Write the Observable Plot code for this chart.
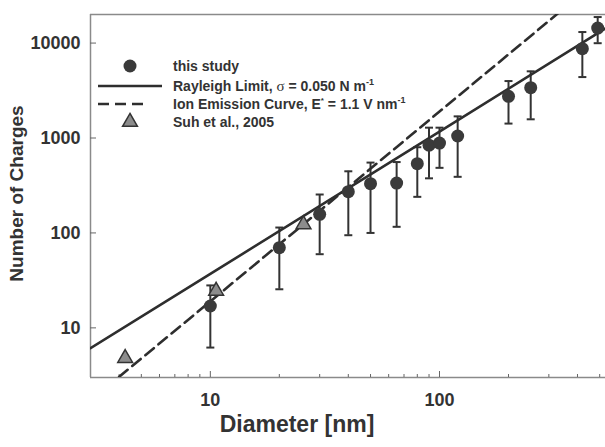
<!DOCTYPE html>
<html>
<head>
<meta charset="utf-8">
<script src="https://cdn.jsdelivr.net/npm/d3@7"></script>
<script src="https://cdn.jsdelivr.net/npm/@observablehq/plot@0.6"></script>
<style>
  html, body { margin: 0; padding: 0; background: #fff; }
  #chart { width: 605px; height: 447px; overflow: hidden; }
</style>
</head>
<body>
<div id="chart"></div>
<script>
// ---- data ----
const xDomain = [3, 530];
const yDomain = [3, 20000];
const xMajorTicks = [10, 100];
const xMinorTicks = [4, 5, 6, 7, 8, 9, 20, 30, 40, 50, 60, 70, 80, 90, 200, 300, 400, 500];
const yTicks = [10, 100, 1000, 10000];

// this study (diameter nm, charges, error low, error high)
const studyD  = [10, 20, 30, 40, 50, 65, 80, 90, 100, 120, 200, 250, 420, 490];
const studyN  = [17, 70, 157, 272, 330, 335, 537, 840, 885, 1050, 2750, 3390, 8730, 14400];
const studyLo = [6.2, 25.5, 59.7, 94.6, 100, 116, 240, 376, 485, 390, 1419, 1574, 4385, 9970];
const studyHi = [28, 114, 254, 446, 551, 558, 800, 1285, 1285, 1690, 3980, 5040, 13070, 18800];

// Suh et al., 2005
const suhD = [4.25, 10.6, 25.5];
const suhN = [4.8, 24.5, 123];

// Rayleigh limit line
const rayD = [3, 10, 100, 530];
const rayN = [6.1, 37, 1170, 14300];

// Ion emission curve
const ionD = [4, 10, 100, 330];
const ionN = [3.05, 19, 1900, 20700];

// ---- tables ----
const study = studyD.map((d, i) => ({d, n: studyN[i], lo: studyLo[i], hi: studyHi[i]}));
const suh = suhD.map((d, i) => ({d, n: suhN[i]}));
const ray = rayD.map((d, i) => ({d, n: rayN[i]}));
const ion = ionD.map((d, i) => ({d, n: ionN[i]}));

const dark = "#333333";
const frameGray = "#8a8a8a";
const font = "'Liberation Sans', Arial, Helvetica, sans-serif";

const capSymbol = {
  draw(context, size) {
    const w = Math.sqrt(size / Math.PI);
    context.moveTo(-w, 0);
    context.lineTo(w, 0);
  }
};

const chart = Plot.plot({
  width: 605,
  height: 447,
  marginLeft: 90,
  marginTop: 14,
  marginBottom: 70,
  marginRight: 0,
  style: {fontFamily: font, background: "#fff", color: dark, overflow: "visible"},
  x: {type: "log", domain: xDomain},
  y: {type: "log", domain: yDomain},
  marks: [
    // frame lines (top, left, bottom)
    Plot.ruleY([yDomain[1]], {stroke: frameGray, strokeWidth: 1.5}),
    Plot.ruleY([yDomain[0]], {stroke: frameGray, strokeWidth: 1.5}),
    Plot.ruleX([xDomain[0]], {stroke: frameGray, strokeWidth: 1.5}),
    // ticks (inward)
    Plot.axisX({ticks: xMinorTicks, tickSize: -3, tickFormat: () => "", stroke: "#666", label: null}),
    Plot.axisX({ticks: xMajorTicks, tickSize: -6, tickFormat: () => "", stroke: "#666", label: null}),
    Plot.axisY({ticks: yTicks, tickSize: -6, tickFormat: () => "", stroke: "#666", label: null}),
    // tick labels
    Plot.axisX({ticks: xMajorTicks, tickSize: 0, tickPadding: 16, tickFormat: d => String(d),
      fontSize: 18, fontWeight: "bold", fill: dark, label: null}),
    Plot.axisY({ticks: yTicks, tickSize: 0, tickPadding: 10, tickFormat: d => String(d),
      fontSize: 18, fontWeight: "bold", fill: dark, label: null}),
    // axis titles
    Plot.text(["Diameter [nm]"], {frameAnchor: "bottom", dx: -51, dy: 54, lineAnchor: "bottom",
      fontSize: 23, fontWeight: "bold", fill: dark}),
    Plot.text(["Number of Charges"], {frameAnchor: "left", rotate: -90, dx: -68, dy: -2.5,
      lineAnchor: "bottom", textAnchor: "middle", fontSize: 19, fontWeight: "bold", fill: dark}),
    // error bars
    Plot.ruleX(study, {x: "d", y1: "lo", y2: "hi", stroke: dark, strokeWidth: 2}),
    Plot.dot(study, {x: "d", y: "lo", symbol: capSymbol, r: 4, stroke: dark, strokeWidth: 2, fill: "none"}),
    Plot.dot(study, {x: "d", y: "hi", symbol: capSymbol, r: 4, stroke: dark, strokeWidth: 2, fill: "none"}),
    // model curves
    Plot.line(ray, {x: "d", y: "n", stroke: "#2e2e2e", strokeWidth: 2.6, clip: true}),
    Plot.line(ion, {x: "d", y: "n", stroke: "#2e2e2e", strokeWidth: 2.6, strokeDasharray: "11,6", clip: true}),
    // points
    Plot.dot(study, {x: "d", y: "n", r: 6.5, fill: "#3a3a3a", stroke: "none"}),
    Plot.dot(suh, {x: "d", y: "n", symbol: "triangle", r: 5.5, fill: "#8c8c8c", stroke: dark, strokeWidth: 1.5})
  ]
});

document.getElementById("chart").appendChild(chart);

// ---- legend (inside the plot, top-left) ----
const svg = d3.select(chart);
const lg = svg.append("g").attr("font-family", font).attr("font-weight", "bold")
  .attr("font-size", 14).attr("fill", dark).attr("text-anchor", "start");

lg.append("circle").attr("cx", 130).attr("cy", 66).attr("r", 6.5).attr("fill", "#3a3a3a");
lg.append("line").attr("x1", 98).attr("x2", 162).attr("y1", 86).attr("y2", 86)
  .attr("stroke", "#2e2e2e").attr("stroke-width", 2.6);
lg.append("line").attr("x1", 98).attr("x2", 147).attr("y1", 104).attr("y2", 104)
  .attr("stroke", "#2e2e2e").attr("stroke-width", 2.6).attr("stroke-dasharray", "11,6");
lg.append("path").attr("transform", "translate(130,122)")
  .attr("d", d3.symbol(d3.symbolTriangle, 5.5 * 5.5 * Math.PI)())
  .attr("fill", "#8c8c8c").attr("stroke", dark).attr("stroke-width", 1.5);

lg.append("text").attr("x", 173).attr("y", 71).attr("text-anchor", "start").text("this study");

const t2 = lg.append("text").attr("x", 173).attr("y", 91).attr("text-anchor", "start");
t2.append("tspan").text("Rayleigh Limit, ");
t2.append("tspan").attr("font-family", "'Liberation Serif', 'DejaVu Serif', serif")
  .attr("font-weight", "normal").attr("font-size", 15).text("σ");
t2.append("tspan").text(" = 0.050 N m");
t2.append("tspan").attr("font-size", 9).attr("dy", -6).text("-1");

const t3 = lg.append("text").attr("x", 173).attr("y", 109).attr("text-anchor", "start");
t3.append("tspan").text("Ion Emission Curve, E");
t3.append("tspan").attr("font-size", 8).attr("dy", -6).text("*");
t3.append("tspan").attr("dy", 6).text(" = 1.1 V nm");
t3.append("tspan").attr("font-size", 9).attr("dy", -6).text("-1");

lg.append("text").attr("x", 173).attr("y", 127).attr("text-anchor", "start").text("Suh et al., 2005");
</script>
</body>
</html>
